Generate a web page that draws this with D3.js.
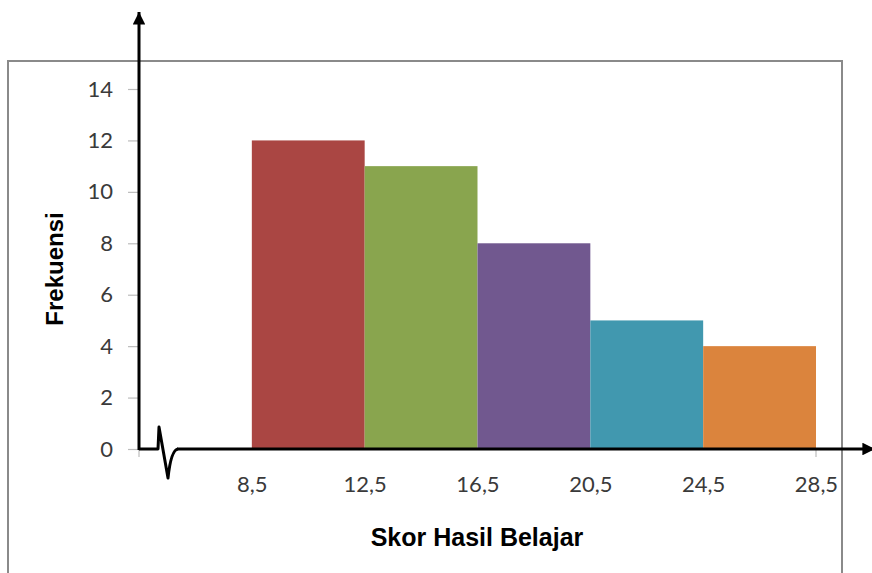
<!DOCTYPE html>
<html>
<head>
<meta charset="utf-8">
<script src="https://cdn.jsdelivr.net/npm/d3@7"></script>
<style>
  html, body { margin: 0; padding: 0; background: #fff; }
  svg { display: block; }
</style>
</head>
<body>
<svg id="chart" width="872" height="573"></svg>
<script>
// Class boundaries of the score intervals and their frequencies
const binEdges = [8.5, 12.5, 16.5, 20.5, 24.5, 28.5];
const frequencies = [12, 11, 8, 5, 4];
const barColors = ["#AA4643", "#89A54E", "#71588F", "#4198AF", "#DB843D"];
const yTicks = [0, 2, 4, 6, 8, 10, 12, 14];
const xTickLabels = ["8,5", "12,5", "16,5", "20,5", "24,5", "28,5"];
const yTitle = "Frekuensi";
const xTitle = "Skor Hasil Belajar";

const svg = d3.select("#chart");

const x = d3.scaleLinear().domain([4.5, 28.5]).range([139, 816]);
const y = d3.scaleLinear().domain([0, 14]).range([449, 89]);

// Outer chart frame
svg.append("rect")
  .attr("x", 8).attr("y", 61)
  .attr("width", 834).attr("height", 540)
  .attr("fill", "none")
  .attr("stroke", "#8a8a8a")
  .attr("stroke-width", 2);

// Histogram bars
const bins = frequencies.map((f, i) => ({ x0: binEdges[i], x1: binEdges[i + 1], f, c: barColors[i] }));
svg.append("g").selectAll("rect")
  .data(bins)
  .join("rect")
  .attr("x", d => x(d.x0))
  .attr("width", d => x(d.x1) - x(d.x0))
  .attr("y", d => y(d.f))
  .attr("height", d => y(0) - y(d.f))
  .attr("fill", d => d.c);

// Y axis ticks and labels
const yAxis = d3.axisLeft(y).tickValues(yTicks).tickSize(11).tickPadding(15).tickFormat(d3.format("d"));
const gy = svg.append("g").attr("transform", `translate(${x(4.5)},0)`).call(yAxis);
gy.select(".domain").remove();
gy.selectAll(".tick line").attr("stroke", "#bcbcbc").attr("stroke-width", 1.2);
gy.selectAll(".tick text")
  .attr("fill", "#3a3a3a")
  .style("font-family", "Lato, 'Open Sans', sans-serif")
  .style("font-size", "22px");

// X axis labels at the class boundaries
const xAxis = d3.axisBottom(x).tickValues(binEdges).tickSize(0).tickPadding(27)
  .tickFormat((d, i) => xTickLabels[i]);
const gx = svg.append("g").attr("transform", `translate(0,${y(0)})`).call(xAxis);
gx.select(".domain").remove();
gx.selectAll(".tick text")
  .attr("fill", "#3a3a3a")
  .style("font-family", "Lato, 'Open Sans', sans-serif")
  .style("font-size", "22px");

// Small grey ticks at both ends of the category axis
svg.append("g").selectAll("line")
  .data([4.5, 28.5])
  .join("line")
  .attr("x1", d => x(d)).attr("x2", d => x(d))
  .attr("y1", y(0)).attr("y2", y(0) + 8)
  .attr("stroke", "#bcbcbc").attr("stroke-width", 1.2);

// Arrow markers
const defs = svg.append("defs");
defs.append("marker")
  .attr("id", "arrow")
  .attr("viewBox", "0 0 10 10")
  .attr("refX", 10).attr("refY", 5)
  .attr("markerWidth", 4.2).attr("markerHeight", 4.2)
  .attr("markerUnits", "strokeWidth")
  .attr("orient", "auto")
  .append("path").attr("d", "M0,0 L10,5 L0,10 Z").attr("fill", "#000");

// Vertical axis with arrow
svg.append("line")
  .attr("x1", x(4.5)).attr("x2", x(4.5))
  .attr("y1", y(0) + 1).attr("y2", 12)
  .attr("stroke", "#000").attr("stroke-width", 3)
  .attr("marker-end", "url(#arrow)");

// Horizontal axis with a break symbol near the origin
const x0 = x(4.5), y0 = y(0);
svg.append("path")
  .attr("d", `M${x0},${y0} L${x0 + 19},${y0} L${x0 + 20},${y0 - 22} L${x0 + 29},${y0 + 29} Q${x0 + 32},${y0 + 1} ${x0 + 39},${y0}`)
  .attr("fill", "none")
  .attr("stroke", "#000").attr("stroke-width", 3)
  .attr("stroke-linejoin", "round");
svg.append("line")
  .attr("x1", x0 + 38).attr("x2", 875)
  .attr("y1", y0).attr("y2", y0)
  .attr("stroke", "#000").attr("stroke-width", 3)
  .attr("marker-end", "url(#arrow)");

// Axis titles
svg.append("text")
  .attr("transform", "translate(63,269) rotate(-90)")
  .attr("text-anchor", "middle")
  .style("font-family", "'Liberation Sans', Arial, sans-serif")
  .style("font-weight", "bold")
  .style("font-size", "24px")
  .attr("fill", "#000")
  .text(yTitle);

svg.append("text")
  .attr("x", 477).attr("y", 546)
  .attr("text-anchor", "middle")
  .style("font-family", "'Liberation Sans', Arial, sans-serif")
  .style("font-weight", "bold")
  .style("font-size", "25px")
  .attr("fill", "#000")
  .text(xTitle);
</script>
</body>
</html>
